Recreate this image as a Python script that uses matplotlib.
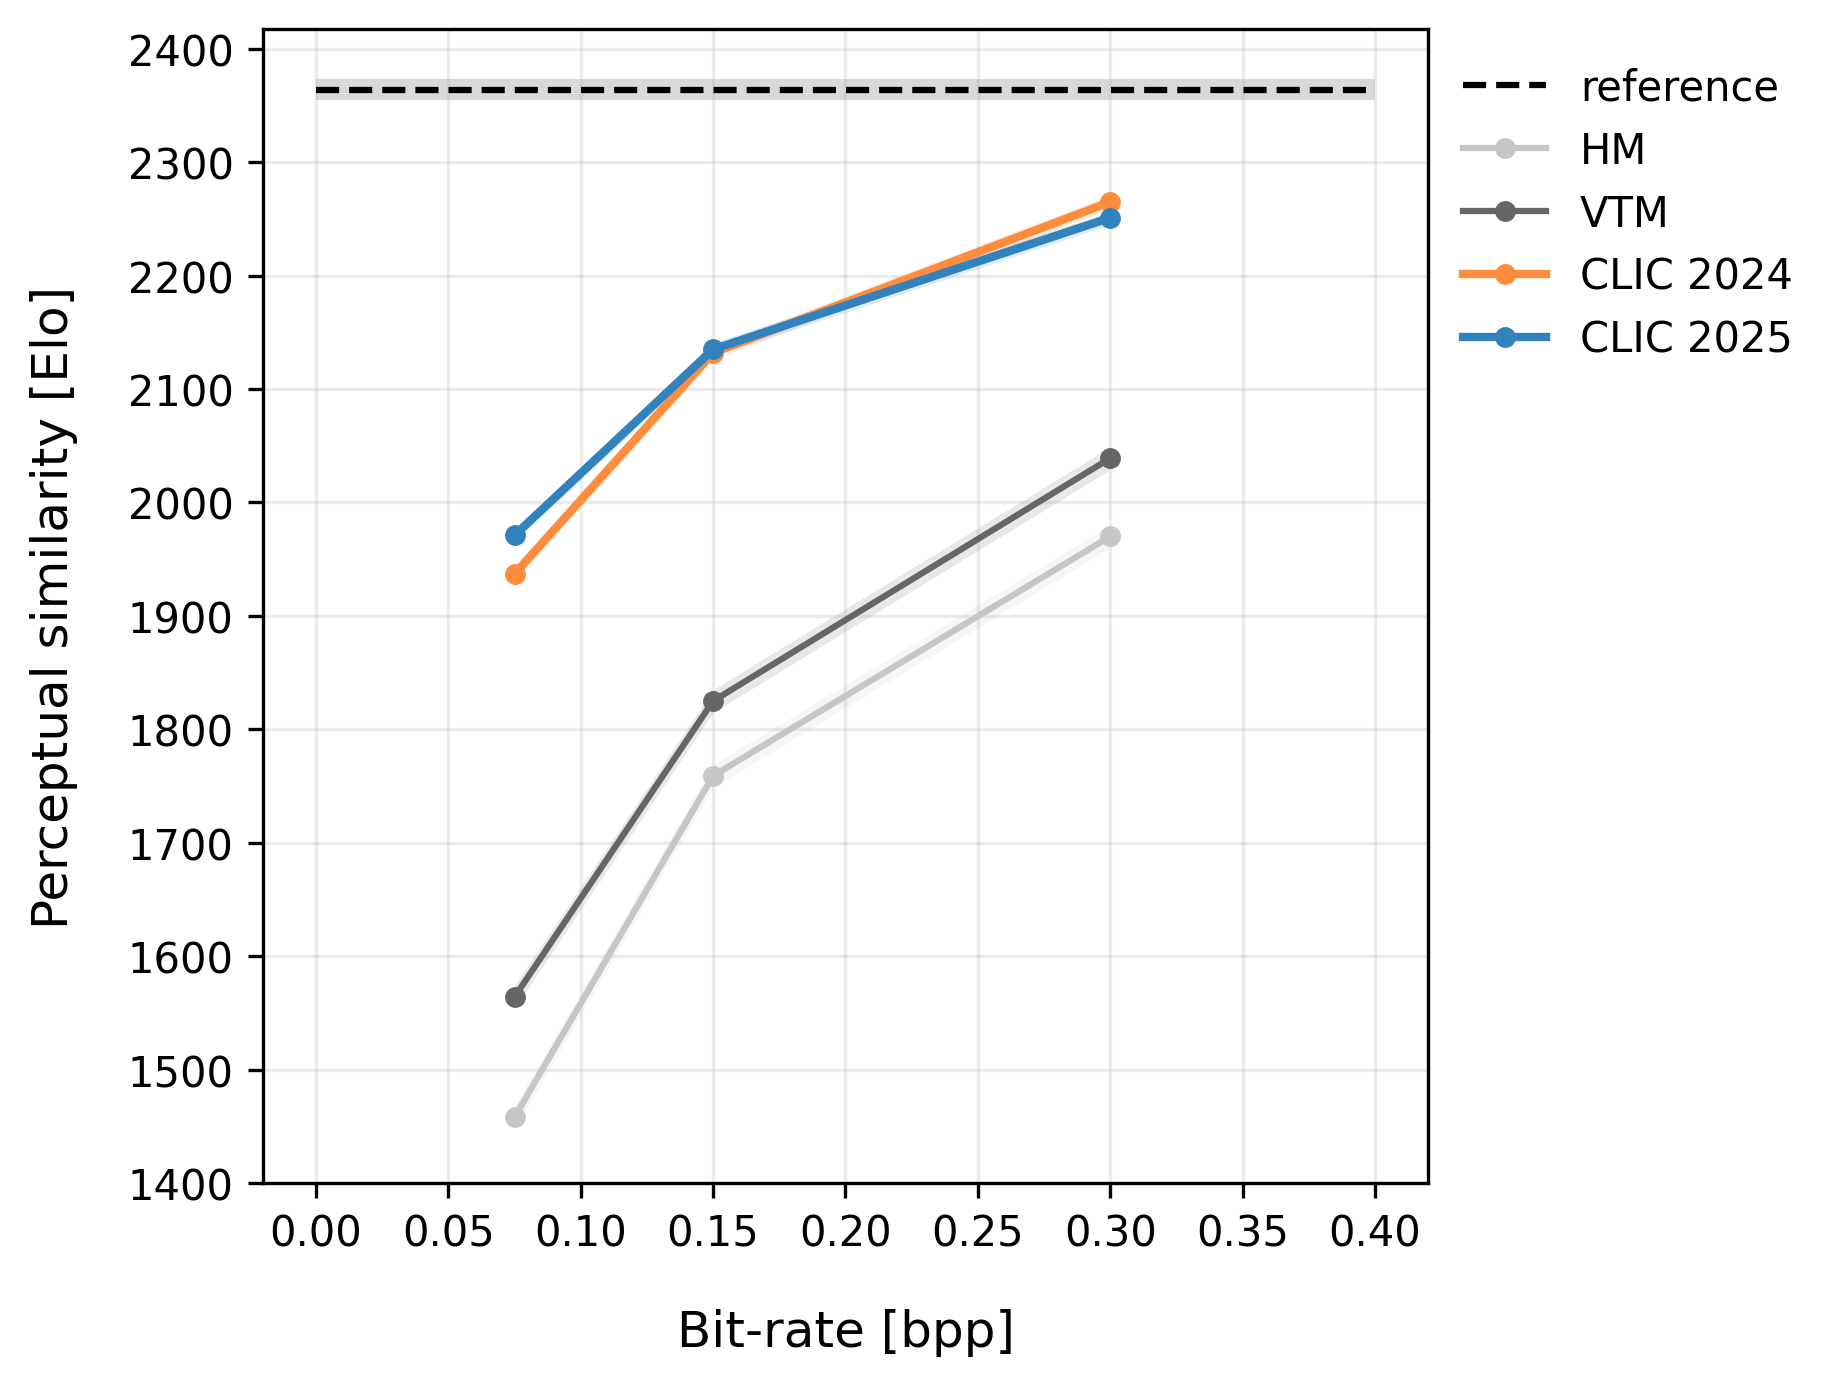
import numpy as np
import matplotlib
matplotlib.use("Agg")
import matplotlib.pyplot as plt

# bit-rates (bpp) used by every codec
bitrates = [0.075, 0.15, 0.30]

# Elo scores
reference_elo = 2364
reference_ci = 9

codec_names = ["HM", "VTM", "CLIC 2024", "CLIC 2025"]
hm_elo = [1458, 1759, 1970]
vtm_elo = [1564, 1825, 2039]
clic2024_elo = [1937, 2132, 2265]
clic2025_elo = [1971, 2135, 2251]
codec_ci = [10, 10, 6, 6]

codec_colors = ["#c6c6c6", "#666666", "#fd8d3c", "#3182bd"]
codec_widths = [1.5, 1.5, 2.0, 2.0]


def main():
    fig = plt.figure(figsize=(6.13, 4.6133), dpi=300)
    ax = fig.add_axes([0.143, 0.1445, 0.6335, 0.8335])

    # reference line with its confidence band
    ax.fill_between([0.0, 0.4], reference_elo - reference_ci, reference_elo + reference_ci,
                    color="black", alpha=0.15, linewidth=0)
    ax.plot([0.0, 0.4], [reference_elo, reference_elo], "--", color="black",
            linewidth=1.5, label="reference")

    all_elo = [hm_elo, vtm_elo, clic2024_elo, clic2025_elo]
    for name, elo, ci, color, lw in zip(codec_names, all_elo, codec_ci, codec_colors, codec_widths):
        elo = np.array(elo)
        ax.fill_between(bitrates, elo - ci, elo + ci, color=color, alpha=0.15, linewidth=0)
        ax.plot(bitrates, elo, "-o", color=color, linewidth=lw, markersize=4, label=name)

    ax.set_xlim(-0.02, 0.42)
    ax.set_ylim(1400, 2417)
    ax.set_xticks(np.arange(0.0, 0.401, 0.05))
    ax.set_yticks(np.arange(1400, 2401, 100))
    ax.xaxis.set_major_formatter(matplotlib.ticker.FormatStrFormatter("%.2f"))
    ax.grid(True, alpha=0.25)
    ax.tick_params(labelsize=10)

    ax.set_xlabel("Bit-rate [bpp]", fontsize=12, labelpad=13)
    ax.set_ylabel("Perceptual similarity [Elo]", fontsize=12, labelpad=12)

    ax.legend(loc="upper left", bbox_to_anchor=(0.998, 1.0), frameon=False,
              fontsize=10, labelspacing=0.5)

    fig.savefig("out.png", dpi=300)


if __name__ == '__main__':
    main()
